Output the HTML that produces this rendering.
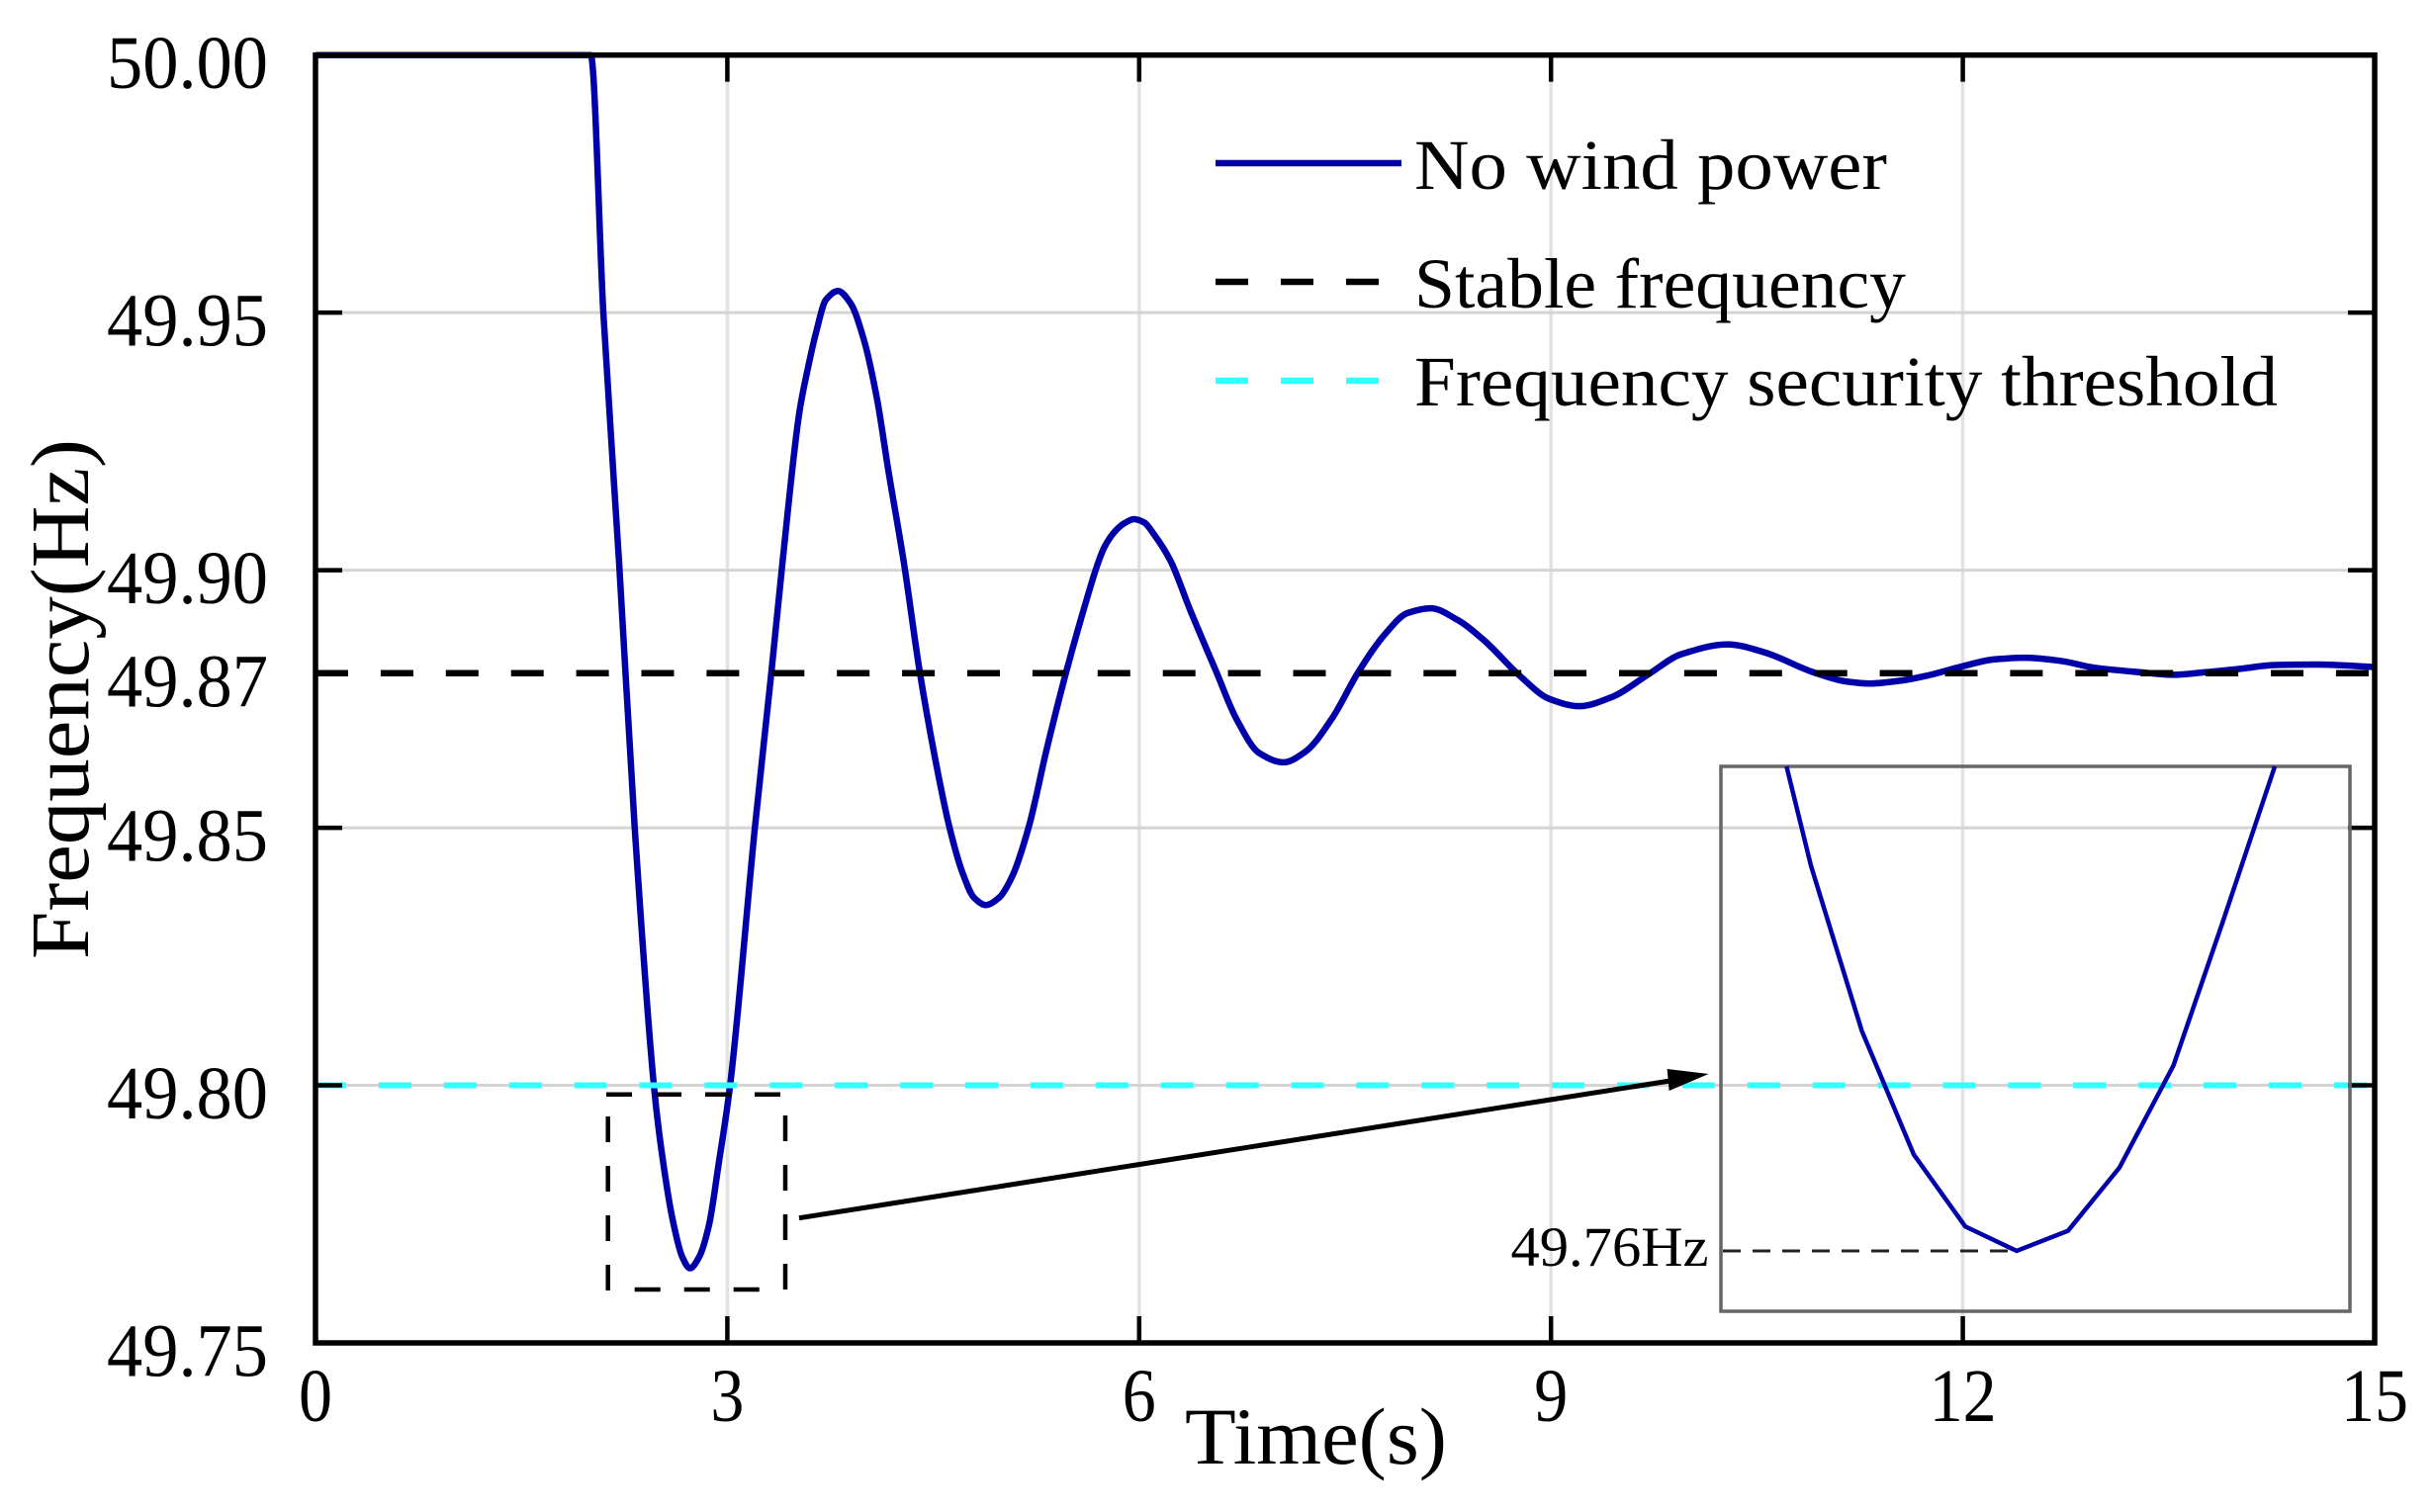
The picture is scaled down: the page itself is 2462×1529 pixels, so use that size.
<!DOCTYPE html>
<html lang="en">
<head>
<meta charset="utf-8">
<title>Frequency response chart</title>
<style>
html,body{margin:0;padding:0;background:#fff;}
svg{display:block;}
text{font-family:"Liberation Serif",serif;fill:#000;}
</style>
</head>
<body>
<svg id="chart" xmlns="http://www.w3.org/2000/svg" width="2462" height="1529" viewBox="0 0 2462 1529">
  <rect x="0" y="0" width="2462" height="1529" fill="#fff"/>
  <g id="grid"></g>
  <g id="series"></g>
  <g id="axes"></g>
  <g id="ticks"></g>
  <text x="1198" y="1480" font-size="82" textLength="265" lengthAdjust="spacingAndGlyphs">Time(s)</text>
  <text transform="translate(89,970) rotate(-90)" x="0" y="0" font-size="84" textLength="526" lengthAdjust="spacingAndGlyphs">Frequency(Hz)</text>

  <g>
    <g>
      <line x1="1229" y1="165" x2="1417" y2="165" stroke="#0000aa" stroke-width="6.5"/>
      <text x="1430" y="191" font-size="72" textLength="478" lengthAdjust="spacingAndGlyphs">No wind power</text>
    </g>
    <g>
      <line x1="1229" y1="285" x2="1396" y2="285" stroke="#000" stroke-width="6.5" stroke-dasharray="33 33"/>
      <text x="1430" y="311" font-size="72" textLength="497" lengthAdjust="spacingAndGlyphs">Stable frequency</text>
    </g>
    <g>
      <line x1="1229" y1="385" x2="1396" y2="385" stroke="#33ffff" stroke-width="6.5" stroke-dasharray="33 33"/>
      <text x="1430" y="410" font-size="72" textLength="873" lengthAdjust="spacingAndGlyphs">Frequency security threshold</text>
    </g>
  </g>

  <g stroke="#000" stroke-width="4.5" fill="none" stroke-dasharray="26 24">
    <line x1="613" y1="1106.7" x2="794" y2="1106.7"/>
    <line x1="794" y1="1128" x2="794" y2="1305"/>
    <line x1="767.7" y1="1304" x2="640" y2="1304"/>
    <line x1="614.7" y1="1305" x2="614.7" y2="1128"/>
  </g>
  <line x1="808" y1="1231.7" x2="1695" y2="1092" stroke="#000" stroke-width="5"/>
  <polygon points="1727.6,1086 1685.6,1081 1687.6,1103" fill="#000"/>

  <rect x="1740" y="775" width="636" height="551" fill="none" stroke="#666" stroke-width="3.5"/>
  <g id="inset"></g>
  <text x="1527.5" y="1280" font-size="57" textLength="200" lengthAdjust="spacingAndGlyphs">49.76Hz</text>
</svg>

<script>
// ---- chart data ----
const timeSeconds = [0,2.005,2.097,2.212,2.325,2.464,2.517,2.601,2.673,2.728,2.793,2.865,2.937,3.021,3.201,3.321,3.401,3.525,3.586,3.646,3.718,3.806,3.898,3.994,4.090,4.174,4.287,4.402,4.522,4.618,4.714,4.798,4.883,4.978,5.074,5.195,5.326,5.468,5.603,5.699,5.747,5.819,5.891,5.963,6.035,6.107,6.227,6.371,6.563,6.707,6.875,7.051,7.212,7.404,7.596,7.788,7.956,8.125,8.316,8.516,8.773,8.989,9.205,9.445,9.710,9.950,10.286,10.550,10.910,11.150,11.318,11.558,11.751,11.991,12.231,12.447,12.711,12.952,13.287,13.528,13.768,14.033,14.272,14.584,15];
const frequencyHz = [50,50,49.9499,49.9013,49.8501,49.8002,49.7880,49.7740,49.7666,49.7645,49.7666,49.7727,49.7848,49.8002,49.8501,49.8802,49.9013,49.9307,49.9391,49.9461,49.9525,49.9542,49.9518,49.9448,49.9333,49.9192,49.9013,49.8802,49.8623,49.8501,49.8412,49.8364,49.8350,49.8364,49.8405,49.8501,49.8652,49.8802,49.8930,49.9013,49.9045,49.9074,49.9091,49.9099,49.9093,49.9070,49.9019,49.8923,49.8802,49.8712,49.8645,49.8627,49.8648,49.8712,49.8802,49.8875,49.8917,49.8926,49.8904,49.8863,49.8795,49.8750,49.8736,49.8754,49.8798,49.8837,49.8856,49.8841,49.8802,49.8784,49.8780,49.8786,49.8796,49.8813,49.8827,49.8830,49.8824,49.8811,49.8802,49.8797,49.8802,49.8809,49.8816,49.8817,49.8812];
const insetTime = [2.5163,2.54,2.5895,2.64,2.69,2.74,2.79,2.84,2.8925,2.94,2.991];
const insetFrequency = [49.7983,49.7914,49.7799,49.7713,49.7663,49.7646,49.7660,49.7704,49.7775,49.7874,49.7983];
const insetMinimum = 49.7646;
const insetMinimumTime = 2.74;
const stableFrequency = 49.88;
const thresholdFrequency = 49.8;
const xTickValues = [0,3,6,9,12,15];
const xTickLabels = ["0","3","6","9","12","15"];
const yGridValues = [49.95,49.9,49.85,49.8];
const yTickValues = [50,49.95,49.9,49.88,49.85,49.8,49.75];
const yTickLabels = ["50.00","49.95","49.90","49.87","49.85","49.80","49.75"];

// ---- axis functions ----
const plotLeft = 319, plotRight = 2401, plotTop = 55.7, plotBottom = 1358;
const xDomain = [0,15], yDomain = [49.75,50];
function xScale(t){ return plotLeft + (t - xDomain[0]) / (xDomain[1] - xDomain[0]) * (plotRight - plotLeft); }
function yScale(f){ return plotBottom - (f - yDomain[0]) / (yDomain[1] - yDomain[0]) * (plotBottom - plotTop); }
const insetLeft = 1740, insetTop = 775, insetHeight = 551;
const insetTimeStart = 2.4525, insetPxPerSecond = 1040;
const insetFreqTop = 49.7983, insetFreqBottom = 49.7604;
function insetX(t){ return insetLeft + (t - insetTimeStart) * insetPxPerSecond; }
function insetY(f){ return insetTop + (insetFreqTop - f) / (insetFreqTop - insetFreqBottom) * insetHeight; }

// monotone cubic path through the scaled points
function smoothPath(xs, ys){
  const n = xs.length, secants = [], slopes = [];
  for (let i = 0; i < n - 1; i++) secants.push((ys[i+1] - ys[i]) / (xs[i+1] - xs[i]));
  slopes.push(secants[0]);
  for (let i = 1; i < n - 1; i++) {
    const a = secants[i-1], b = secants[i];
    slopes.push(a * b <= 0 ? 0 : 2 * a * b / (a + b));
  }
  slopes.push(secants[n-2]);
  let d = 'M' + xs[0].toFixed(2) + ' ' + ys[0].toFixed(2);
  for (let i = 0; i < n - 1; i++) {
    const h = (xs[i+1] - xs[i]) / 3;
    d += ' C' + (xs[i] + h).toFixed(2) + ' ' + (ys[i] + slopes[i] * h).toFixed(2)
       + ' ' + (xs[i+1] - h).toFixed(2) + ' ' + (ys[i+1] - slopes[i+1] * h).toFixed(2)
       + ' ' + xs[i+1].toFixed(2) + ' ' + ys[i+1].toFixed(2);
  }
  return d;
}

const NS = "http://www.w3.org/2000/svg";
function make(tag, attrs, parent){
  const node = document.createElementNS(NS, tag);
  for (const key in attrs) node.setAttribute(key, attrs[key]);
  parent.appendChild(node);
  return node;
}
const gridLayer = document.getElementById('grid');
const seriesLayer = document.getElementById('series');
const axesLayer = document.getElementById('axes');
const tickLayer = document.getElementById('ticks');
const insetLayer = document.getElementById('inset');

// grid
xTickValues.slice(1,-1).forEach(function(v){
  const line = make('line',{x1:xScale(v),x2:xScale(v),y1:plotTop,y2:plotBottom,stroke:'#e2e2e2','stroke-width':3.5},gridLayer);
  
  
});
yGridValues.forEach(function(v){
  const line = make('line',{x1:plotLeft,x2:plotRight,y1:yScale(v),y2:yScale(v),stroke:'#d4d4d4','stroke-width':3},gridLayer);
  
  
});

// main series
const curve = make('path',{
  d: smoothPath(timeSeconds.map(xScale), frequencyHz.map(yScale)),
  fill:'none',stroke:'#0000aa','stroke-width':6.5,'stroke-linejoin':'round'
},seriesLayer);



const stableLine = make('line',{x1:plotLeft,x2:plotRight-3,y1:yScale(stableFrequency),y2:yScale(stableFrequency),stroke:'#000','stroke-width':6.5,'stroke-dasharray':'33 32.9'},seriesLayer);



const thresholdLine = make('line',{x1:plotLeft-2,x2:plotRight-3,y1:yScale(thresholdFrequency),y2:yScale(thresholdFrequency),stroke:'#33ffff','stroke-width':6,'stroke-dasharray':'33 32.9'},seriesLayer);



// ticks on all four sides
const tickLength = 27;
xTickValues.slice(1,-1).forEach(function(v){
  const top = make('line',{x1:xScale(v),x2:xScale(v),y1:plotTop,y2:plotTop+tickLength,stroke:'#000','stroke-width':4.5},axesLayer);
  
  
  const bottom = make('line',{x1:xScale(v),x2:xScale(v),y1:plotBottom,y2:plotBottom-tickLength,stroke:'#000','stroke-width':4.5},axesLayer);
  
  
});
yGridValues.forEach(function(v){
  const left = make('line',{x1:plotLeft,x2:plotLeft+tickLength,y1:yScale(v),y2:yScale(v),stroke:'#000','stroke-width':4.5},axesLayer);
  
  
  const right = make('line',{x1:plotRight,x2:plotRight-tickLength,y1:yScale(v),y2:yScale(v),stroke:'#000','stroke-width':4.5},axesLayer);
  
  
});
const frame = make('rect',{x:plotLeft,y:plotTop,width:plotRight-plotLeft,height:plotBottom-plotTop,fill:'none',stroke:'#000','stroke-width':5.5},axesLayer);



// tick labels
xTickValues.forEach(function(v,i){
  const label = make('text',{x:xScale(v),y:1437,'font-size':76,'text-anchor':'middle',textLength:xTickLabels[i].length*34,lengthAdjust:'spacingAndGlyphs'},tickLayer);
  
  
  label.textContent = xTickLabels[i];
});
yTickValues.forEach(function(v,i){
  const label = make('text',{x:271,y:yScale(v)+33.5,'font-size':76,'text-anchor':'end',textLength:163,lengthAdjust:'spacingAndGlyphs'},tickLayer);
  
  
  label.textContent = yTickLabels[i];
});

// inset
const insetLeader = make('line',{x1:insetLeft+2,x2:insetX(insetMinimumTime),y1:insetY(insetMinimum),y2:insetY(insetMinimum),stroke:'#222','stroke-width':3,'stroke-dasharray':'18 12'},insetLayer);


const insetCurve = make('polyline',{
  points: insetTime.map(function(t,i){ return insetX(t).toFixed(2)+','+insetY(insetFrequency[i]).toFixed(2); }).join(' '),
  fill:'none',stroke:'#0000aa','stroke-width':4.5,'stroke-linejoin':'miter'
},insetLayer);


</script>
</body>
</html>
